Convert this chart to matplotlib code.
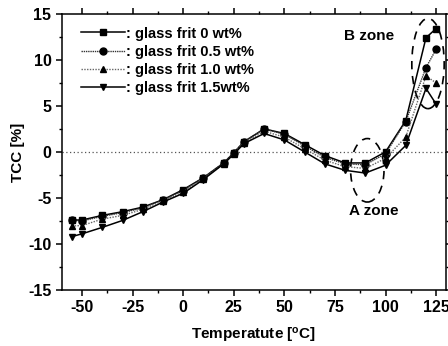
import matplotlib
matplotlib.use('Agg')
import matplotlib.pyplot as plt
from matplotlib.patches import Ellipse
from matplotlib.ticker import MultipleLocator

plt.rcParams['font.family'] = ['Liberation Sans', 'DejaVu Sans']
plt.rcParams['axes.unicode_minus'] = False

# Dados
temperatura = [-55, -50, -40, -30, -20, -10, 0, 10, 20, 25, 30, 40, 50, 60, 70, 80, 90, 100, 110, 120, 125]
tcc_0 = [-7.4, -7.4, -6.9, -6.5, -6.0, -5.2, -4.1, -2.8, -1.2, -0.1, 1.1, 2.5, 2.0, 0.8, -0.4, -1.2, -1.2, 0.0, 3.4, 12.4, 13.4]
tcc_05 = [-7.4, -7.5, -7.0, -6.6, -6.1, -5.2, -4.2, -2.8, -1.2, -0.1, 1.1, 2.5, 1.9, 0.65, -0.6, -1.3, -1.4, -0.2, 3.3, 9.15, 11.15]
tcc_10 = [-8.05, -8.0, -7.3, -6.9, -6.25, -5.3, -4.35, -2.9, -1.3, -0.2, 1.0, 2.25, 1.6, 0.35, -0.9, -1.6, -1.8, -0.7, 1.6, 8.25, 7.5]
tcc_15 = [-9.2, -8.9, -8.2, -7.45, -6.5, -5.45, -4.5, -3.0, -1.3, -0.25, 0.9, 2.0, 1.3, 0.0, -1.3, -2.0, -2.3, -1.45, 0.7, 6.9, 5.2]
rotulos = [': glass frit 0 wt%', ': glass frit 0.5 wt%', ': glass frit 1.0 wt%', ': glass frit 1.5wt%']

fig = plt.figure(figsize=(4.48, 3.46), dpi=100)
ax = fig.add_axes([0.138, 0.162, 0.858, 0.798])

ax.axhline(0, color='#555555', linestyle=(0, (1, 2)), linewidth=0.9, zorder=1)

estilos = [
    (tcc_0, 's', '-', 'black', 1.1),
    (tcc_05, 'o', (0, (1, 0.6)), '#333333', 1.0),
    (tcc_10, '^', (0, (1, 1)), '#666666', 1.0),
    (tcc_15, 'v', '-', 'black', 1.1),
]
for (serie, marcador, ls, cor, lw), rot in zip(estilos, rotulos):
    ax.plot(temperatura, serie, linestyle=ls, color=cor, linewidth=lw,
            marker=marcador, markersize=5, markerfacecolor='black',
            markeredgecolor='black', label=rot, zorder=3)

# Zonas A e B
ax.add_patch(Ellipse((91, -2.0), 16.5, 6.9, fill=False, linestyle=(0, (5, 4)),
                     linewidth=1.2, edgecolor='black'))
ax.add_patch(Ellipse((121, 9.6), 16, 9.8, fill=False, linestyle=(0, (5, 4)),
                     linewidth=1.2, edgecolor='black'))
ax.text(92, 12.6, 'B zone', fontsize=11, fontweight='bold', ha='center', va='center')
ax.text(94, -6.4, 'A zone', fontsize=11, fontweight='bold', ha='center', va='center')

ax.set_xlim(-60, 130)
ax.set_ylim(-15, 15)
ax.xaxis.set_minor_locator(MultipleLocator(12.5))
ax.yaxis.set_major_locator(MultipleLocator(5))
ax.yaxis.set_minor_locator(MultipleLocator(2.5))
ax.set_xticks([-50, -25, 0, 25, 50, 75, 100, 125])
ax.tick_params(which='major', direction='out', length=4, width=1.1, labelsize=11.5)
ax.tick_params(which='minor', direction='out', length=2.5, width=1.0)
ax.tick_params(which='both', top=True, right=True)
for lab in ax.get_xticklabels() + ax.get_yticklabels():
    lab.set_fontweight('bold')
for sp in ax.spines.values():
    sp.set_linewidth(1.1)

ax.set_xlabel('Temperatute [$\\mathregular{^oC}$]', fontsize=11, fontweight='bold', labelpad=8)
ax.set_ylabel('TCC [%]', fontsize=11, fontweight='bold', labelpad=2)

ax.legend(loc='upper left', bbox_to_anchor=(0.035, 0.975), frameon=False,
          handlelength=3.0, handletextpad=0.1, labelspacing=0.28, borderaxespad=0.0,
          prop={'weight': 'bold', 'size': 10.5})

fig.savefig('out.png', dpi=100)
